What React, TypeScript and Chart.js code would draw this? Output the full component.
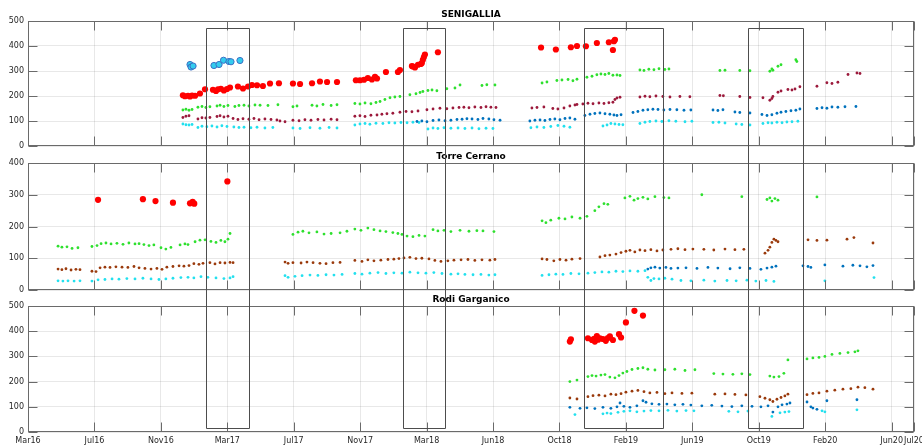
import React, { useEffect, useRef } from 'react';
import { Chart, registerables } from 'chart.js';

Chart.register(...registerables);
Chart.defaults.font.family = '"DejaVu Sans", sans-serif';

type P = [number, number];

// ---- axis data (decimal years) ----
const TICK_LABELS = ['Mar16', 'Jul16', 'Nov16', 'Mar17', 'Jul17', 'Nov17', 'Mar18', 'Jun18', 'Oct18', 'Feb19', 'Jun19', 'Oct19', 'Feb20', 'Jun20', 'Jul20'];
const X_START = 2016.202;
const TICK_STEP = 0.32722;
const X_END = 2020.566;
const Y_TICK_STEP = 100;

// event windows (start, end) in decimal years
const EVENT_WINDOWS: P[] = [[2017.079, 2017.29], [2018.049, 2018.256], [2018.94, 2019.329], [2019.748, 2020.019]];
const WINDOW_TOP = 471; // in SENIGALLIA units
const WINDOW_BOTTOM = 15; // in Rodi Garganico units

// ---- SENIGALLIA ----
const SEN_RED: P[] = [[2016.965, 203], [2016.975, 199], [2016.99, 201], [2017.0, 198], [2017.01, 202], [2017.025, 201], [2017.049, 210], [2017.074, 227], [2017.113, 225], [2017.128, 220], [2017.138, 227], [2017.152, 229], [2017.167, 222], [2017.182, 228], [2017.197, 234], [2017.236, 238], [2017.261, 230], [2017.286, 238], [2017.305, 244], [2017.33, 243], [2017.359, 240], [2017.394, 250], [2017.438, 251], [2017.507, 250], [2017.542, 248], [2017.601, 251], [2017.64, 258], [2017.675, 256], [2017.724, 256], [2017.817, 263], [2017.837, 263], [2017.857, 265], [2017.876, 272], [2017.896, 266], [2017.911, 277], [2017.921, 270], [2017.965, 296], [2018.024, 296], [2018.034, 304], [2018.093, 320], [2018.098, 318], [2018.108, 314], [2018.123, 325], [2018.137, 328], [2018.142, 332], [2018.147, 345], [2018.152, 356], [2018.157, 366], [2018.221, 375], [2018.729, 394], [2018.802, 386], [2018.876, 395], [2018.906, 400], [2018.95, 399], [2019.004, 412], [2019.063, 415], [2019.088, 419], [2019.093, 425], [2019.083, 384]];
const SEN_CYAN_BIG: P[] = [[2017.0, 326], [2017.005, 316], [2017.015, 320], [2017.118, 322], [2017.143, 326], [2017.165, 343], [2017.192, 338], [2017.202, 337], [2017.246, 342]];
const SEN_GREEN: P[] = [[2016.965, 144], [2016.98, 147], [2016.995, 143], [2017.01, 146], [2017.039, 155], [2017.059, 158], [2017.078, 154], [2017.098, 157], [2017.133, 160], [2017.148, 163], [2017.167, 158], [2017.187, 162], [2017.221, 158], [2017.241, 162], [2017.266, 163], [2017.29, 160], [2017.32, 164], [2017.345, 163], [2017.384, 162], [2017.433, 165], [2017.507, 157], [2017.527, 160], [2017.601, 163], [2017.625, 160], [2017.655, 166], [2017.695, 162], [2017.724, 165], [2017.812, 170], [2017.837, 168], [2017.862, 172], [2017.891, 169], [2017.916, 174], [2017.936, 178], [2017.96, 186], [2017.985, 193], [2018.009, 196], [2018.034, 198], [2018.083, 205], [2018.113, 209], [2018.133, 214], [2018.147, 218], [2018.172, 222], [2018.192, 224], [2018.216, 221], [2018.265, 229], [2018.305, 232], [2018.33, 244], [2018.438, 242], [2018.462, 245], [2018.502, 244], [2018.734, 252], [2018.758, 256], [2018.807, 262], [2018.832, 264], [2018.862, 266], [2018.886, 261], [2018.906, 267], [2018.955, 275], [2018.98, 279], [2019.004, 285], [2019.024, 288], [2019.044, 286], [2019.063, 290], [2019.083, 283], [2019.103, 284], [2019.118, 282], [2019.216, 304], [2019.236, 302], [2019.26, 307], [2019.285, 305], [2019.31, 309], [2019.339, 306], [2019.359, 308], [2019.61, 302], [2019.635, 303], [2019.708, 302], [2019.758, 301], [2019.856, 299], [2019.866, 308], [2019.871, 303], [2019.896, 319], [2019.911, 325], [2019.984, 345], [2019.989, 338]];
const SEN_MAROON: P[] = [[2016.965, 114], [2016.98, 119], [2016.995, 121], [2017.039, 108], [2017.059, 113], [2017.078, 112], [2017.098, 114], [2017.133, 118], [2017.148, 121], [2017.167, 116], [2017.187, 119], [2017.212, 110], [2017.236, 106], [2017.261, 109], [2017.29, 107], [2017.315, 110], [2017.34, 105], [2017.369, 108], [2017.399, 106], [2017.428, 104], [2017.443, 100], [2017.468, 97], [2017.507, 103], [2017.537, 101], [2017.566, 105], [2017.596, 103], [2017.63, 106], [2017.66, 104], [2017.695, 107], [2017.724, 105], [2017.812, 119], [2017.837, 121], [2017.862, 118], [2017.891, 123], [2017.921, 124], [2017.945, 127], [2017.97, 129], [2017.999, 131], [2018.034, 135], [2018.064, 138], [2018.093, 137], [2018.123, 140], [2018.167, 145], [2018.197, 148], [2018.231, 151], [2018.265, 149], [2018.295, 152], [2018.325, 154], [2018.349, 155], [2018.374, 153], [2018.403, 156], [2018.433, 154], [2018.458, 157], [2018.482, 155], [2018.507, 154], [2018.684, 152], [2018.709, 154], [2018.743, 156], [2018.787, 150], [2018.812, 148], [2018.842, 152], [2018.871, 160], [2018.896, 164], [2018.906, 166], [2018.935, 168], [2018.96, 171], [2018.985, 169], [2019.014, 172], [2019.039, 170], [2019.063, 173], [2019.083, 175], [2019.093, 186], [2019.103, 192], [2019.118, 195], [2019.216, 196], [2019.241, 199], [2019.265, 197], [2019.295, 200], [2019.329, 198], [2019.364, 196], [2019.413, 198], [2019.462, 197], [2019.61, 202], [2019.627, 201], [2019.708, 198], [2019.758, 194], [2019.822, 193], [2019.856, 183], [2019.866, 190], [2019.871, 198], [2019.896, 215], [2019.911, 220], [2019.945, 226], [2019.965, 224], [2019.98, 228], [2020.004, 237], [2020.088, 239], [2020.137, 253], [2020.162, 250], [2020.191, 255], [2020.241, 286], [2020.285, 292], [2020.3, 290]];
const SEN_BLUE: P[] = [[2018.118, 98], [2018.142, 100], [2018.167, 97], [2018.197, 102], [2018.226, 104], [2018.256, 101], [2018.285, 103], [2018.315, 106], [2018.34, 107], [2018.364, 109], [2018.389, 108], [2018.418, 106], [2018.443, 110], [2018.472, 108], [2018.497, 105], [2018.527, 103], [2018.674, 100], [2018.699, 103], [2018.724, 104], [2018.748, 102], [2018.773, 106], [2018.797, 108], [2018.822, 105], [2018.847, 110], [2018.871, 112], [2018.896, 107], [2018.945, 122], [2018.97, 127], [2018.994, 130], [2019.019, 132], [2019.044, 129], [2019.068, 127], [2019.088, 124], [2019.103, 122], [2019.123, 125], [2019.182, 134], [2019.206, 138], [2019.231, 143], [2019.255, 145], [2019.28, 147], [2019.305, 146], [2019.334, 144], [2019.364, 146], [2019.398, 145], [2019.433, 143], [2019.467, 144], [2019.576, 144], [2019.6, 142], [2019.625, 145], [2019.684, 136], [2019.708, 134], [2019.758, 132], [2019.817, 126], [2019.842, 122], [2019.866, 125], [2019.891, 131], [2019.911, 135], [2019.935, 138], [2019.96, 141], [2019.984, 143], [2020.004, 148], [2020.088, 150], [2020.113, 153], [2020.137, 151], [2020.162, 156], [2020.191, 155], [2020.226, 157], [2020.28, 158]];
const SEN_CYAN: P[] = [[2016.965, 88], [2016.98, 85], [2016.995, 84], [2017.01, 86], [2017.039, 74], [2017.059, 79], [2017.083, 77], [2017.108, 80], [2017.133, 76], [2017.157, 81], [2017.182, 78], [2017.216, 76], [2017.241, 74], [2017.266, 75], [2017.3, 73], [2017.33, 75], [2017.369, 72], [2017.408, 74], [2017.507, 72], [2017.542, 70], [2017.591, 73], [2017.64, 71], [2017.685, 74], [2017.724, 72], [2017.812, 84], [2017.837, 88], [2017.862, 90], [2017.886, 87], [2017.916, 91], [2017.95, 90], [2017.98, 93], [2018.009, 92], [2018.039, 94], [2018.069, 93], [2018.098, 95], [2018.128, 94], [2018.172, 68], [2018.197, 72], [2018.221, 70], [2018.251, 73], [2018.285, 71], [2018.32, 72], [2018.354, 70], [2018.389, 72], [2018.423, 69], [2018.458, 71], [2018.492, 70], [2018.679, 73], [2018.709, 76], [2018.743, 74], [2018.777, 78], [2018.812, 82], [2018.842, 79], [2018.871, 75], [2019.034, 80], [2019.054, 84], [2019.073, 90], [2019.093, 88], [2019.113, 86], [2019.132, 85], [2019.216, 90], [2019.241, 95], [2019.265, 98], [2019.295, 100], [2019.324, 98], [2019.359, 101], [2019.393, 99], [2019.438, 97], [2019.472, 99], [2019.576, 94], [2019.605, 95], [2019.635, 92], [2019.69, 88], [2019.718, 86], [2019.758, 84], [2019.822, 90], [2019.847, 93], [2019.866, 92], [2019.891, 95], [2019.916, 93], [2019.94, 96], [2019.965, 97], [2019.994, 99]];

// ---- Torre Cerrano ----
const TOR_RED: P[] = [[2016.547, 284], [2016.768, 286], [2016.83, 280], [2016.916, 275], [2017.0, 273], [2017.013, 278], [2017.021, 272], [2017.184, 342]];
const TOR_GREEN: P[] = [[2016.35, 138], [2016.369, 135], [2016.394, 136], [2016.419, 131], [2016.448, 133], [2016.517, 137], [2016.542, 140], [2016.562, 146], [2016.586, 148], [2016.611, 145], [2016.64, 147], [2016.67, 144], [2016.699, 148], [2016.729, 145], [2016.749, 146], [2016.773, 143], [2016.798, 140], [2016.822, 142], [2016.857, 133], [2016.881, 129], [2016.906, 134], [2016.951, 142], [2016.975, 145], [2016.99, 143], [2017.025, 152], [2017.049, 157], [2017.074, 158], [2017.103, 153], [2017.128, 150], [2017.152, 156], [2017.172, 152], [2017.187, 160], [2017.197, 178], [2017.507, 175], [2017.532, 182], [2017.556, 185], [2017.586, 180], [2017.625, 183], [2017.66, 176], [2017.695, 178], [2017.739, 180], [2017.773, 185], [2017.812, 192], [2017.842, 188], [2017.876, 195], [2017.906, 190], [2017.936, 186], [2017.965, 184], [2017.999, 181], [2018.024, 178], [2018.044, 175], [2018.069, 170], [2018.098, 168], [2018.128, 172], [2018.157, 170], [2018.197, 190], [2018.221, 186], [2018.251, 188], [2018.285, 184], [2018.33, 188], [2018.374, 185], [2018.413, 187], [2018.443, 186], [2018.497, 184], [2018.734, 218], [2018.753, 212], [2018.777, 220], [2018.817, 226], [2018.847, 224], [2018.881, 230], [2018.921, 226], [2018.955, 232], [2018.994, 250], [2019.014, 262], [2019.039, 272], [2019.058, 270], [2019.142, 290], [2019.167, 295], [2019.187, 283], [2019.206, 288], [2019.231, 292], [2019.255, 287], [2019.29, 294], [2019.334, 291], [2019.359, 290], [2019.521, 300], [2019.718, 294], [2019.842, 285], [2019.856, 290], [2019.866, 280], [2019.881, 288], [2019.896, 283], [2020.088, 293]];
const TOR_BROWN: P[] = [[2016.35, 66], [2016.369, 64], [2016.389, 67], [2016.414, 63], [2016.438, 65], [2016.458, 64], [2016.517, 59], [2016.537, 58], [2016.557, 70], [2016.581, 72], [2016.606, 71], [2016.635, 73], [2016.665, 72], [2016.694, 71], [2016.724, 74], [2016.749, 70], [2016.778, 68], [2016.808, 66], [2016.837, 68], [2016.862, 65], [2016.886, 72], [2016.916, 74], [2016.946, 76], [2016.97, 75], [2016.995, 77], [2017.019, 83], [2017.044, 81], [2017.064, 84], [2017.098, 86], [2017.123, 82], [2017.148, 86], [2017.172, 85], [2017.197, 87], [2017.212, 86], [2017.468, 88], [2017.483, 84], [2017.507, 86], [2017.547, 85], [2017.576, 88], [2017.606, 86], [2017.64, 84], [2017.67, 83], [2017.704, 86], [2017.739, 87], [2017.812, 93], [2017.847, 90], [2017.876, 95], [2017.906, 92], [2017.94, 94], [2017.975, 96], [2018.004, 97], [2018.029, 99], [2018.054, 101], [2018.083, 103], [2018.113, 99], [2018.142, 100], [2018.177, 98], [2018.206, 93], [2018.236, 90], [2018.27, 92], [2018.3, 94], [2018.335, 95], [2018.369, 96], [2018.403, 93], [2018.438, 95], [2018.477, 94], [2018.502, 96], [2018.734, 98], [2018.758, 96], [2018.792, 92], [2018.822, 96], [2018.852, 94], [2018.881, 97], [2018.921, 99], [2019.019, 104], [2019.044, 108], [2019.068, 110], [2019.098, 113], [2019.123, 118], [2019.147, 122], [2019.167, 125], [2019.191, 120], [2019.216, 126], [2019.241, 124], [2019.27, 127], [2019.3, 123], [2019.329, 126], [2019.369, 128], [2019.403, 130], [2019.438, 127], [2019.477, 129], [2019.531, 128], [2019.58, 126], [2019.635, 129], [2019.684, 127], [2019.728, 128], [2019.832, 116], [2019.847, 125], [2019.856, 135], [2019.866, 150], [2019.876, 160], [2019.886, 156], [2019.896, 152], [2020.044, 158], [2020.088, 156], [2020.137, 157], [2020.236, 160], [2020.27, 165], [2020.364, 148]];
const TOR_CYAN: P[] = [[2016.35, 29], [2016.374, 28], [2016.399, 29], [2016.429, 28], [2016.458, 29], [2016.517, 28], [2016.547, 32], [2016.581, 33], [2016.616, 35], [2016.65, 34], [2016.689, 36], [2016.729, 35], [2016.768, 37], [2016.808, 35], [2016.847, 33], [2016.881, 35], [2016.916, 37], [2016.955, 39], [2016.99, 40], [2017.019, 38], [2017.054, 42], [2017.088, 40], [2017.128, 38], [2017.167, 36], [2017.197, 38], [2017.212, 42], [2017.468, 45], [2017.483, 40], [2017.517, 43], [2017.552, 45], [2017.591, 47], [2017.63, 46], [2017.67, 48], [2017.709, 47], [2017.749, 49], [2017.812, 52], [2017.847, 50], [2017.886, 53], [2017.926, 55], [2017.965, 52], [2018.004, 54], [2018.044, 53], [2018.083, 56], [2018.123, 54], [2018.162, 53], [2018.201, 55], [2018.241, 52], [2018.285, 50], [2018.32, 51], [2018.354, 49], [2018.394, 48], [2018.433, 49], [2018.472, 47], [2018.502, 48], [2018.734, 46], [2018.768, 48], [2018.802, 50], [2018.837, 49], [2018.876, 52], [2018.916, 51], [2018.96, 53], [2018.994, 55], [2019.029, 57], [2019.063, 56], [2019.098, 59], [2019.132, 58], [2019.167, 60], [2019.206, 59], [2019.241, 61], [2019.255, 40], [2019.27, 30], [2019.285, 36], [2019.31, 35], [2019.339, 37], [2019.374, 34], [2019.418, 30], [2019.467, 29], [2019.531, 31], [2019.585, 28], [2019.645, 30], [2019.69, 29], [2019.743, 31], [2019.787, 28], [2019.837, 30], [2019.876, 27], [2020.127, 29], [2020.369, 39]];
const TOR_BLUE: P[] = [[2019.255, 66], [2019.27, 70], [2019.29, 72], [2019.314, 69], [2019.344, 71], [2019.369, 68], [2019.403, 69], [2019.443, 70], [2019.497, 68], [2019.551, 71], [2019.6, 69], [2019.66, 67], [2019.708, 70], [2019.758, 68], [2019.812, 65], [2019.842, 69], [2019.866, 72], [2019.886, 75], [2020.019, 76], [2020.044, 74], [2020.058, 71], [2020.127, 79], [2020.216, 75], [2020.265, 78], [2020.3, 76], [2020.334, 73], [2020.364, 77]];

// ---- Rodi Garganico ----
const ROD_RED: P[] = [[2018.871, 359], [2018.876, 368], [2018.96, 372], [2018.98, 365], [2018.99, 370], [2018.994, 359], [2019.004, 381], [2019.01, 366], [2019.019, 372], [2019.034, 369], [2019.048, 362], [2019.058, 373], [2019.068, 380], [2019.083, 365], [2019.113, 388], [2019.123, 375], [2019.147, 435], [2019.189, 481], [2019.231, 462]];
const ROD_GREEN: P[] = [[2018.871, 200], [2018.906, 206], [2018.96, 220], [2018.98, 224], [2019.0, 222], [2019.024, 226], [2019.044, 228], [2019.068, 218], [2019.093, 215], [2019.113, 224], [2019.132, 234], [2019.152, 240], [2019.177, 248], [2019.206, 252], [2019.231, 255], [2019.255, 249], [2019.29, 246], [2019.339, 247], [2019.388, 249], [2019.438, 244], [2019.487, 247], [2019.58, 232], [2019.625, 230], [2019.674, 229], [2019.718, 231], [2019.758, 228], [2019.856, 222], [2019.876, 218], [2019.901, 220], [2019.925, 233], [2019.945, 286], [2020.039, 290], [2020.068, 294], [2020.098, 296], [2020.127, 300], [2020.162, 308], [2020.201, 312], [2020.241, 315], [2020.275, 318], [2020.29, 322]];
const ROD_BROWN: P[] = [[2018.871, 135], [2018.906, 131], [2018.96, 140], [2018.985, 144], [2019.014, 146], [2019.044, 143], [2019.073, 150], [2019.098, 148], [2019.123, 152], [2019.147, 158], [2019.177, 162], [2019.206, 165], [2019.236, 160], [2019.265, 155], [2019.3, 157], [2019.339, 152], [2019.374, 155], [2019.423, 153], [2019.472, 154], [2019.585, 150], [2019.635, 151], [2019.684, 149], [2019.738, 147], [2019.807, 140], [2019.832, 134], [2019.856, 128], [2019.871, 121], [2019.891, 130], [2019.911, 137], [2019.93, 143], [2019.945, 150], [2020.039, 148], [2020.068, 153], [2020.098, 155], [2020.137, 162], [2020.176, 166], [2020.216, 170], [2020.255, 172], [2020.29, 178], [2020.324, 176], [2020.364, 170]];
const ROD_BLUE: P[] = [[2018.871, 98], [2018.921, 94], [2018.955, 96], [2018.994, 93], [2019.034, 98], [2019.073, 94], [2019.103, 100], [2019.118, 115], [2019.137, 102], [2019.167, 98], [2019.201, 104], [2019.231, 124], [2019.246, 118], [2019.275, 112], [2019.31, 110], [2019.349, 111], [2019.388, 108], [2019.428, 110], [2019.467, 107], [2019.521, 104], [2019.57, 106], [2019.62, 103], [2019.669, 101], [2019.718, 104], [2019.768, 102], [2019.812, 100], [2019.847, 104], [2019.871, 79], [2019.896, 100], [2019.916, 108], [2019.94, 111], [2019.955, 115], [2020.039, 119], [2020.058, 100], [2020.068, 95], [2020.088, 90], [2020.137, 124], [2020.285, 128]];
const ROD_CYAN: P[] = [[2018.896, 69], [2019.034, 72], [2019.054, 75], [2019.073, 73], [2019.108, 78], [2019.137, 82], [2019.167, 84], [2019.201, 80], [2019.236, 83], [2019.27, 85], [2019.31, 84], [2019.354, 86], [2019.398, 83], [2019.443, 85], [2019.482, 84], [2019.654, 82], [2019.699, 80], [2019.748, 83], [2019.866, 62], [2019.906, 76], [2019.93, 79], [2019.95, 81], [2020.113, 84], [2020.127, 80], [2020.285, 88]];

// ---- styles ----
const C_RED = '#ff0000';
const C_GREEN = '#2ee02e';
const C_MAROON = '#9c1a3c';
const C_BROWN = '#9a3a0c';
const C_BLUE = '#0072bd';
const C_CYAN = '#22e0ee';
const C_CYAN_BIG = '#33ccee';
const C_CYAN_EDGE = '#3a6fc4';
const AXIS = '#6a6a6a';
const GRID = 'rgba(0,0,0,0.09)';
const TEXT = '#262626';
const WINDOW_COLOR = '#4d4d4d';
const TICK_LEN = 9;

type Series = { data: P[]; fill: string; edge?: string; r: number; bw?: number };

const small = (data: P[], color: string): Series => ({ data, fill: color, r: 1.4 });
const big = (data: P[], color: string, edge?: string): Series => ({ data, fill: color, edge: edge || color, r: 3.1, bw: edge ? 1 : 0 });

const PANELS = [
  {
    title: 'SENIGALLIA', yMax: 500, top: 0, height: 151, padTop: 21, padBottom: 4, showX: false,
    windowTop: WINDOW_TOP, windowBottom: null as number | null,
    series: [small(SEN_GREEN, C_GREEN), small(SEN_MAROON, C_MAROON), small(SEN_BLUE, C_BLUE), small(SEN_CYAN, C_CYAN), big(SEN_RED, C_RED), big(SEN_CYAN_BIG, C_CYAN_BIG, C_CYAN_EDGE)],
  },
  {
    title: 'Torre Cerrano', yMax: 400, top: 151, height: 144, padTop: 12, padBottom: 5, showX: false,
    windowTop: null as number | null, windowBottom: null as number | null,
    series: [small(TOR_GREEN, C_GREEN), small(TOR_BROWN, C_BROWN), small(TOR_BLUE, C_BLUE), small(TOR_CYAN, C_CYAN), big(TOR_RED, C_RED)],
  },
  {
    title: 'Rodi Garganico', yMax: 500, top: 295, height: 151, padTop: 11, padBottom: 0, showX: true,
    windowTop: null as number | null, windowBottom: WINDOW_BOTTOM,
    series: [small(ROD_GREEN, C_GREEN), small(ROD_BROWN, C_BROWN), small(ROD_BLUE, C_BLUE), small(ROD_CYAN, C_CYAN), big(ROD_RED, C_RED)],
  },
];

const framePlugin = {
  id: 'frame',
  afterDraw(chart: any, _args: any, opts: any) {
    const { ctx, chartArea: a, scales } = chart;
    const xs = scales.x;
    const ys = scales.y;
    ctx.save();
    ctx.lineWidth = 1;
    ctx.strokeStyle = AXIS;
    const L = a.left + 0.5, R = a.right - 0.5, T = a.top + 0.5, B = a.bottom - 0.5;
    ctx.strokeRect(L, T, R - L, B - T);
    ctx.beginPath();
    xs.ticks.forEach((t: any) => {
      const px = Math.round(xs.getPixelForValue(t.value)) + 0.5;
      ctx.moveTo(px, B); ctx.lineTo(px, B - TICK_LEN);
      ctx.moveTo(px, T); ctx.lineTo(px, T + TICK_LEN);
    });
    ys.ticks.forEach((t: any) => {
      const py = Math.round(ys.getPixelForValue(t.value)) + 0.5;
      ctx.moveTo(L, py); ctx.lineTo(L + TICK_LEN, py);
      ctx.moveTo(R, py); ctx.lineTo(R - TICK_LEN, py);
    });
    ctx.stroke();
    // title
    ctx.fillStyle = '#000';
    ctx.font = 'bold 9px "DejaVu Sans", sans-serif';
    ctx.textAlign = 'center';
    ctx.textBaseline = 'middle';
    ctx.fillText(opts.title, (a.left + a.right) / 2, a.top - 6);
    // event windows
    ctx.strokeStyle = WINDOW_COLOR;
    EVENT_WINDOWS.forEach(([t0, t1]) => {
      const x0 = Math.round(xs.getPixelForValue(t0)) + 0.5;
      const x1 = Math.round(xs.getPixelForValue(t1)) + 0.5;
      const hasTop = opts.windowTop != null;
      const hasBot = opts.windowBottom != null;
      const top = hasTop ? Math.round(ys.getPixelForValue(opts.windowTop)) + 0.5 : -2;
      const bot = hasBot ? Math.round(ys.getPixelForValue(opts.windowBottom)) + 0.5 : chart.height + 2;
      ctx.beginPath();
      ctx.moveTo(x0, bot); ctx.lineTo(x0, top);
      ctx.moveTo(x1, top); ctx.lineTo(x1, bot);
      if (hasTop) { ctx.moveTo(x0, top); ctx.lineTo(x1, top); }
      if (hasBot) { ctx.moveTo(x0, bot); ctx.lineTo(x1, bot); }
      ctx.stroke();
    });
    ctx.restore();
  },
};

function Panel({ p }: { p: typeof PANELS[number] }) {
  const ref = useRef<HTMLCanvasElement | null>(null);
  useEffect(() => {
    if (!ref.current) return;
    const chart = new Chart(ref.current, {
      type: 'scatter',
      data: {
        datasets: p.series.map((s) => ({
          data: s.data.map(([x, y]) => ({ x, y })),
          pointRadius: s.r,
          pointBackgroundColor: s.fill,
          pointBorderColor: s.edge || s.fill,
          pointBorderWidth: s.bw || 0,
          showLine: false,
        })),
      },
      options: {
        animation: false,
        responsive: false,
        devicePixelRatio: 1,
        layout: { padding: { top: p.padTop, bottom: p.padBottom, left: 0, right: 8 } },
        plugins: {
          legend: { display: false },
          tooltip: { enabled: false },
          frame: { title: p.title, windowTop: p.windowTop, windowBottom: p.windowBottom },
        } as any,
        scales: {
          x: {
            type: 'linear',
            min: X_START,
            max: X_END,
            afterBuildTicks: (s: any) => {
              s.ticks = TICK_LABELS.map((_, i) => ({ value: i < TICK_LABELS.length - 1 ? X_START + i * TICK_STEP : X_END }));
            },
            afterFit: (s: any) => { s.height = p.showX ? 14 : 0; s.paddingLeft = 0; s.paddingRight = 0; },
            ticks: {
              display: p.showX, autoSkip: false, maxRotation: 0, minRotation: 0, padding: 4, color: TEXT,
              font: { size: 8 },
              callback: (_v: any, i: number) => TICK_LABELS[i],
            },
            grid: { color: GRID, drawTicks: false },
            border: { display: false },
          },
          y: {
            min: 0,
            max: p.yMax,
            afterFit: (s: any) => { s.width = 28; s.paddingTop = 0; s.paddingBottom = 0; },
            ticks: { stepSize: Y_TICK_STEP, padding: 4, color: TEXT, font: { size: 8 } },
            grid: { color: GRID, drawTicks: false },
            border: { display: false },
          },
        },
      } as any,
      plugins: [framePlugin],
    });
    return () => chart.destroy();
  }, [p]);
  return (
    <canvas
      ref={ref}
      width={922}
      height={p.height}
      style={{ position: 'absolute', left: 0, top: p.top, width: 922, height: p.height, display: 'block' }}
    />
  );
}

export default function App() {
  useEffect(() => {
    document.body.style.margin = '0';
  }, []);
  return (
    <div style={{ position: 'relative', width: 922, height: 446, background: '#fff', overflow: 'hidden' }}>
      {PANELS.map((p) => (
        <Panel key={p.title} p={p} />
      ))}
    </div>
  );
}
